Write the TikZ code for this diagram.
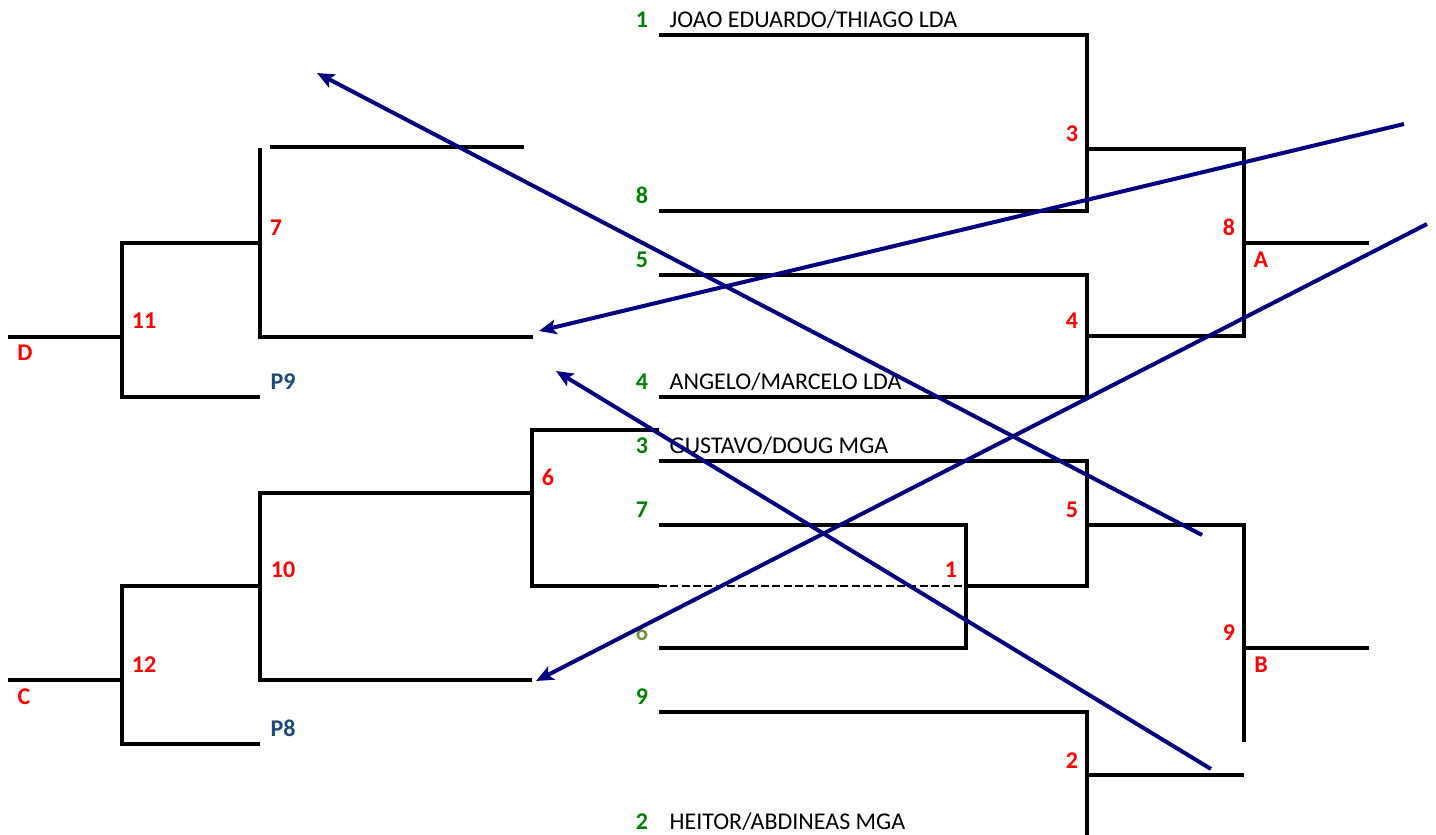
\documentclass[tikz,border=0pt]{standalone}
\usepackage{fontspec}
\setmainfont{Carlito}
\usetikzlibrary{arrows.meta}
\definecolor{seedgreen}{HTML}{008000}
\definecolor{seedolive}{HTML}{77933C}
\definecolor{poolblue}{HTML}{1F497D}
\definecolor{jumpblue}{HTML}{000080}
\begin{document}
\begin{tikzpicture}[x=0.75pt,y=-0.75pt,line width=2.4pt,
  every node/.style={inner sep=0pt,font=\fontsize{18}{22}\selectfont},
  seed/.style={text=seedgreen,font=\fontsize{18}{22}\selectfont\bfseries,anchor=base},
  match/.style={text=red,font=\fontsize{18}{22}\selectfont\bfseries,anchor=base},
  pool/.style={text=poolblue,font=\fontsize{18}{22}\selectfont\bfseries,anchor=base},
  player/.style={anchor=base west},
  jump/.style={jumpblue,line width=3pt,-{Stealth[length=13pt,width=11pt,inset=3pt]}}]
  \useasboundingbox (0,0) rectangle (1436,835);
  % right half of the draw
  \begin{scope}
   \draw (659,35) -| (1087,211) -- (659,211);
   \draw (659,275) -| (1087,397) -- (659,397);
   \draw (1087,149) -| (1244,336) -- (1087,336);
   \draw (1244,243) -- (1369,243);
   \draw (659,461) -| (1087,586) -- (966,586);
   \draw (659,525) -| (966,648) -- (659,648);
   \draw[line width=1.9pt,dash pattern=on 6pt off 2.5pt] (659,586) -- (966,586);
   \draw (659,430) -| (532,586) -- (659,586);
   \draw (1087,525) -| (1244,742);
   \draw (1244,648) -- (1369,648);
   \draw (659,712) -| (1087,835);
   \draw (1087,775) -- (1244,775);
   \node[seed] (s1) at (642,27) {1};
   \node[seed] (s8) at (642,203) {8};
   \node[seed] (s5) at (642,267) {5};
   \node[seed] (s4) at (642,389) {4};
   \node[seed] (s3) at (642,453) {3};
   \node[seed] (s7) at (642,517) {7};
   \node[seed,text=seedolive] (s6) at (642,640) {6};
   \node[seed] (s9) at (642,704) {9};
   \node[seed] (s2) at (642,829) {2};
   \node[player] (p1) at (668,27) {JOAO EDUARDO/THIAGO LDA};
   \node[player] (p4) at (668,389) {ANGELO/MARCELO LDA};
   \node[player] (p3) at (668,453) {GUSTAVO/DOUG MGA};
   \node[player] (p2) at (668,829) {HEITOR/ABDINEAS MGA};
   \node[match] (m3) at (1072,141) {3};
   \node[match] (m4) at (1072,328) {4};
   \node[match] (m8) at (1229,235) {8};
   \node[match] (gA) at (1261,267) {A};
   \node[match] (m5) at (1072,517) {5};
   \node[match] (m9) at (1229,640) {9};
   \node[match] (gB) at (1261,672) {B};
   \node[match] (m2) at (1072,768) {2};
   \node[match] (m1) at (951,577) {1};
   \node[match] (m6) at (548,485) {6};
  \end{scope}
  % left half of the draw
  \begin{scope}
   \draw (270,147) -- (524,147);
   \draw (260,148) |- (533,337);
   \draw (260,243) -| (122,397) -- (260,397);
   \draw (8,337) -- (122,337);
   \draw (532,493) -| (260,680) -- (532,680);
   \draw (260,586) -| (122,744) -- (260,744);
   \draw (8,680) -- (122,680);
   \node[match] (m7) at (276,235) {7};
   \node[match] (m11) at (144,328) {11};
   \node[match] (gD) at (25,360) {D};
   \node[pool] (pool9) at (283,389) {P9};
   \node[match] (m10) at (283,577) {10};
   \node[match] (m12) at (144,672) {12};
   \node[match] (gC) at (24,704) {C};
   \node[pool] (pool8) at (283,736) {P8};
  \end{scope}
  % crossing arrows
  \coordinate (outA) at (1404,124);
  \coordinate (inD) at (539,331);
  \coordinate (outA2) at (1427,224);
  \coordinate (inC) at (536,681);
  \coordinate (outB) at (1202,535);
  \coordinate (inTop) at (317,73);
  \coordinate (outB2) at (1211,769);
  \coordinate (inMid) at (556,371);
  \draw[jump] (outA) -- (inD);
  \draw[jump] (outA2) -- (inC);
  \draw[jump] (outB) -- (inTop);
  \draw[jump] (outB2) -- (inMid);
 \end{tikzpicture}
\end{document}
